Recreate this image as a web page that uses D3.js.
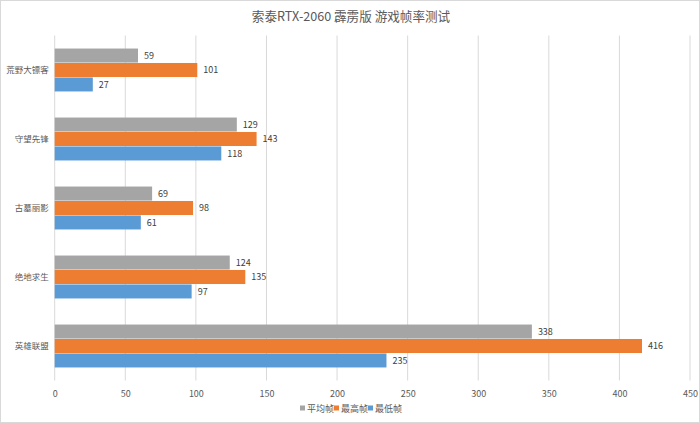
<!DOCTYPE html>
<html><head><meta charset="utf-8">
<script src="https://cdn.jsdelivr.net/npm/d3@7"></script>
<style>body{margin:0;background:#fff}svg{display:block}</style>
</head><body>
<script>
const categories = ["荒野大镖客","守望先锋","古墓丽影","绝地求生","英雄联盟"];
const seriesNames = ["平均帧","最高帧","最低帧"];
const avgFps = [59,129,69,124,338];
const maxFps = [101,143,98,135,416];
const minFps = [27,118,61,97,235];
const xTicks = [0,50,100,150,200,250,300,350,400,450];
const colors = ["#A5A5A5","#ED7D31","#5B9BD5"];
const title = "索泰RTX-2060 霹雳版 游戏帧率测试";

const W=700,H=423;
const svg=d3.select("body").append("svg").attr("width",W).attr("height",H);
svg.append("rect").attr("x",0.5).attr("y",0.5).attr("width",W-1).attr("height",H-1)
  .attr("fill","#fff").attr("stroke","#D9D9D9");
const font='"Noto Sans CJK SC","Noto Sans",sans-serif';
svg.append("text").attr("x",351).attr("y",20.5).attr("text-anchor","middle")
  .attr("font-family",font).attr("font-size",12.6).attr("fill","#595959").text(title);

const x=d3.scaleLinear().domain([0,450]).range([54.7,690]);
const y=d3.scaleBand().domain(categories).range([35.5,380.5]).paddingInner(0.378).paddingOuter(0.189);
const yi=d3.scaleBand().domain(seriesNames).range([0,y.bandwidth()]).paddingInner(0.03);

const g=svg.append("g");
g.selectAll("line.grid").data(xTicks).join("line")
  .attr("x1",d=>x(d)).attr("x2",d=>x(d)).attr("y1",35.5).attr("y2",380.5)
  .attr("stroke","#D9D9D9").attr("stroke-width",1);

const series=[avgFps,maxFps,minFps];
series.forEach((vals,si)=>{
  const gs=g.append("g");
  gs.selectAll("rect").data(vals).join("rect")
    .attr("x",x(0)).attr("y",(d,i)=>y(categories[i])+yi(seriesNames[si]))
    .attr("width",d=>x(d)-x(0)).attr("height",yi.bandwidth()).attr("fill",colors[si]);
  gs.selectAll("text").data(vals).join("text")
    .attr("x",d=>x(d)+6).attr("y",(d,i)=>y(categories[i])+yi(seriesNames[si])+yi.bandwidth()/2)
    .attr("dy","0.35em").attr("font-family",font).attr("font-size",9).attr("fill","#404040").text(d=>d);
});

const xa=svg.append("g").attr("transform","translate(0,380.5)")
  .call(d3.axisBottom(x).tickValues(xTicks).tickSize(0).tickPadding(10));
xa.select(".domain").remove();
xa.selectAll("text").attr("font-family",font).attr("font-size",9).attr("fill","#595959");

const ya=svg.append("g").attr("transform","translate(54.7,0)")
  .call(d3.axisLeft(y).tickSize(0).tickPadding(6));
ya.select(".domain").remove();
ya.selectAll("text").attr("font-family",font).attr("font-size",8.5).attr("fill","#595959");

const leg=svg.append("g").attr("transform","translate(0,409)");
const lx=[300,334,368];
seriesNames.forEach((n,i)=>{
  leg.append("rect").attr("x",lx[i]).attr("y",-3.5).attr("width",5).attr("height",5).attr("fill",colors[i]);
  leg.append("text").attr("x",lx[i]+7).attr("y",0).attr("dy","0.35em")
    .attr("font-family",font).attr("font-size",9).attr("fill","#595959").text(n);
});
</script>
</body></html>
